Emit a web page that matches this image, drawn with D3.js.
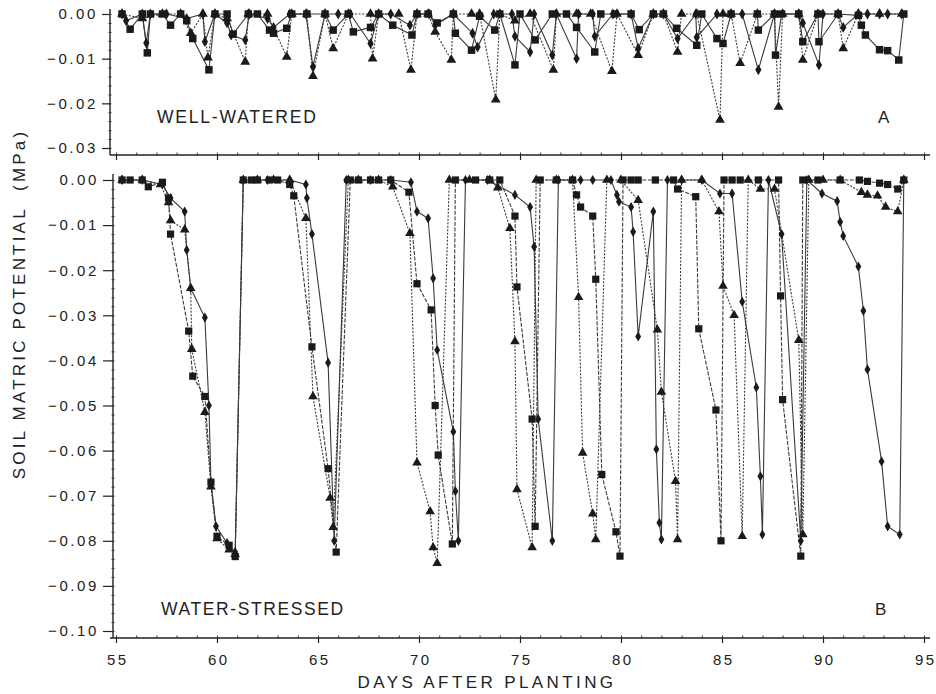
<!DOCTYPE html>
<html>
<head>
<meta charset="utf-8">
<script src="https://cdn.jsdelivr.net/npm/d3@7"></script>
<style>
  html, body { margin: 0; padding: 0; background: #fff; }
  svg { display: block; }
  text { font-family: "Liberation Sans", Arial, sans-serif; fill: #222; }
</style>
</head>
<body>
<svg id="chart" width="936" height="694"></svg>
<script>
// ---------------- DATA ----------------
const xTicks = [55, 60, 65, 70, 75, 80, 85, 90, 95];
const yTicksTop = [0, -0.01, -0.02, -0.03];
const yTicksBottom = [0, -0.01, -0.02, -0.03, -0.04, -0.05, -0.06, -0.07, -0.08, -0.09, -0.10];

// Panel A (well-watered): [day, MPa]
const topSquare = [[55.3,0],[55.7,-0.0034],[56.3,0],[56.55,-0.0087],[56.7,0],[57.3,0],[57.7,-0.0025],[58.2,0],[58.5,-0.0015],[58.8,-0.0055],[59.6,-0.0125],[59.9,0],[60.5,0],[60.8,-0.0045],[61.55,0],[62.0,0],[62.6,-0.0036],[62.8,-0.0043],[63.45,-0.0032],[63.7,0],[64.45,0],[65.35,0],[65.75,-0.0036],[66.5,0],[66.75,-0.004],[67.6,-0.003],[68.0,0],[68.7,-0.0025],[69.65,-0.0047],[69.9,0],[70.45,0],[70.9,-0.002],[71.7,0],[71.8,-0.0043],[72.6,-0.0081],[73.0,-0.0005],[73.75,-0.0036],[74.0,0],[74.75,-0.0114],[75.0,0],[75.75,-0.0058],[76.6,0],[77.3,0],[77.8,-0.003],[78.7,-0.0085],[79.0,0],[79.7,0],[80.5,0],[80.9,-0.0035],[81.6,0],[82.1,0],[82.75,-0.0032],[83.75,-0.007],[84.0,0],[84.75,-0.0055],[85.05,-0.0066],[85.45,0],[86.75,0],[86.8,-0.0036],[87.6,0],[87.65,-0.0092],[87.95,0],[88.8,0],[89.0,-0.0062],[89.75,0],[89.8,-0.0062],[90.75,0],[91.75,-0.0003],[91.9,-0.0025],[92.1,-0.0047],[92.8,-0.008],[93.2,-0.0082],[93.75,-0.0103],[94.0,0]];
const topTriangle = [[55.3,0],[56.3,-0.001],[57.3,0],[58.2,0],[58.7,-0.0043],[59.3,0],[59.55,-0.0098],[59.9,0],[60.5,-0.001],[61.4,-0.0107],[61.55,0],[62.5,0],[63.45,-0.0096],[63.7,0],[64.45,0],[64.75,-0.0139],[65.35,0],[65.75,-0.0077],[66.5,0],[67.6,0],[67.7,-0.01],[68.0,0],[69.0,0],[69.6,-0.0125],[69.9,0],[70.45,0],[70.8,-0.004],[71.6,-0.0103],[71.7,0],[72.6,0],[73.0,0],[73.8,-0.0192],[74.0,0],[74.75,-0.0015],[75.5,0],[76.65,-0.0125],[76.8,0],[77.8,0],[78.5,0],[79.55,-0.0128],[79.8,0],[80.85,-0.0092],[81.6,0],[82.1,0],[82.8,-0.0085],[83.0,0],[83.75,0],[84.9,-0.0237],[85.05,0],[85.45,0],[85.9,-0.011],[86.75,0],[87.6,0],[87.8,-0.0208],[88.0,0],[88.8,0],[89.0,-0.0103],[89.75,0],[90.75,0],[91.0,-0.0077],[91.75,0],[92.8,0],[93.9,0]];
const topDiamond = [[55.3,0],[55.5,-0.0015],[56.3,0],[56.5,-0.0065],[56.7,0],[57.5,0],[58.5,-0.001],[59.3,0],[59.4,-0.0062],[59.9,0],[60.5,-0.002],[60.7,-0.0047],[61.4,-0.0058],[61.6,0],[62.5,-0.001],[62.8,-0.003],[63.6,0],[64.4,0],[64.75,-0.0118],[65.35,0],[66.0,0],[66.6,0],[67.6,-0.0066],[68.0,0],[68.6,0],[69.55,-0.0025],[69.9,0],[70.5,0],[70.8,-0.0025],[71.7,0],[72.65,-0.0043],[72.9,-0.0074],[73.7,0],[74.6,0],[74.75,-0.005],[75.5,-0.0085],[75.7,0],[76.6,-0.0092],[76.8,0],[77.8,-0.01],[77.9,0],[78.6,0],[78.7,-0.005],[79.6,0],[80.5,0],[80.85,-0.0077],[81.6,0],[82.1,0],[82.8,-0.0055],[83.7,0],[83.75,-0.0052],[84.75,0],[85.45,0],[86.0,0],[86.8,-0.0125],[87.6,0],[88.8,0],[89.0,-0.002],[89.8,-0.0114],[90.0,0],[90.75,0],[91.0,-0.003],[91.75,0],[92.2,0],[92.8,0],[93.2,0],[93.9,0]];

// Panel B (water-stressed): [day, MPa]
const botSquare = [[55.3,0],[55.7,0],[56.3,0],[56.6,-0.0015],[57.3,-0.0005],[57.6,-0.004],[57.7,-0.012],[58.6,-0.0335],[58.8,-0.0435],[59.4,-0.048],[59.7,-0.067],[60.0,-0.079],[60.6,-0.081],[60.9,-0.0835],[61.3,0],[61.7,0],[62.0,0],[62.6,0],[63.0,0],[63.6,-0.001],[63.8,-0.0035],[64.7,-0.037],[65.5,-0.064],[65.9,-0.0825],[66.6,0],[67.0,0],[67.6,0],[68.0,0],[68.6,0],[69.5,-0.0027],[69.9,-0.023],[70.6,-0.0288],[70.8,-0.050],[70.95,-0.061],[71.65,-0.0807],[71.8,0],[72.8,0],[73.5,0],[74.0,0],[74.75,-0.008],[74.85,-0.0237],[75.6,-0.053],[75.75,-0.0768],[76.0,0],[76.8,0],[77.6,0],[77.8,-0.0033],[78.0,-0.006],[78.6,-0.008],[78.75,-0.022],[79.05,-0.0653],[79.75,-0.078],[79.95,-0.0834],[80.1,0],[80.5,0],[80.85,0],[81.7,0],[82.6,0],[82.8,-0.002],[83.7,-0.0037],[83.85,-0.033],[84.7,-0.051],[84.95,-0.080],[85.1,0],[85.5,0],[85.9,0],[86.8,0],[87.8,0],[87.9,-0.0257],[88.0,-0.0487],[88.9,-0.0834],[89.0,0],[89.75,0],[90.85,0],[91.8,0],[92.2,-0.0003],[92.8,-0.0007],[93.2,-0.001],[93.7,-0.002],[94.0,0]];
const botTriangle = [[55.3,0],[56.3,0],[57.2,-0.001],[57.6,-0.005],[57.7,-0.009],[58.4,-0.011],[58.7,-0.024],[58.75,-0.0375],[59.4,-0.0515],[59.7,-0.068],[60.0,-0.0795],[60.6,-0.082],[60.9,-0.083],[61.3,0],[62.0,0],[62.8,0],[63.6,0],[64.4,-0.0085],[64.75,-0.048],[65.6,-0.0705],[65.75,-0.077],[66.5,0],[67.0,0],[68.0,0],[68.7,-0.0015],[69.55,-0.0118],[69.9,-0.0627],[70.55,-0.0735],[70.7,-0.0815],[70.9,-0.085],[71.5,0],[72.5,0],[73.5,0],[73.9,-0.0017],[74.5,-0.0107],[74.75,-0.0358],[74.85,-0.0686],[75.6,-0.0815],[75.8,0],[76.8,0],[77.6,0],[77.9,-0.026],[78.1,-0.0605],[78.6,-0.074],[78.75,-0.0797],[79.3,0],[80.0,0],[80.85,-0.0045],[81.8,-0.0332],[82.0,-0.047],[82.7,-0.0668],[82.8,-0.0797],[83.0,0],[84.0,0],[84.85,-0.007],[85.05,-0.0235],[85.6,-0.030],[86.0,-0.079],[86.3,0],[86.9,-0.002],[87.6,-0.002],[88.8,-0.0355],[89.0,-0.0786],[89.3,0],[90.0,0],[90.85,0],[91.9,-0.0027],[92.2,-0.0033],[92.7,-0.0035],[93.1,-0.006],[93.7,-0.007],[94.0,0]];
const botDiamond = [[55.3,0],[56.3,0],[57.3,-0.001],[57.7,-0.004],[58.4,-0.007],[58.5,-0.0155],[58.7,-0.024],[59.4,-0.0305],[59.6,-0.050],[59.7,-0.067],[59.95,-0.0768],[60.5,-0.0805],[60.9,-0.0825],[61.3,0],[62.5,0],[63.6,0],[64.4,-0.001],[64.45,-0.004],[64.7,-0.012],[65.5,-0.0405],[65.8,-0.080],[66.4,0],[67.6,0],[68.6,0],[69.6,-0.0005],[69.9,-0.007],[70.45,-0.0085],[70.7,-0.0218],[70.9,-0.0377],[71.7,-0.0558],[71.8,-0.069],[71.95,-0.080],[72.3,0],[73.4,0],[74.75,-0.0033],[75.5,-0.006],[75.7,-0.0148],[75.9,-0.053],[76.6,-0.080],[76.9,0],[78.0,0],[78.6,0],[79.5,0],[79.8,-0.0033],[79.9,-0.0048],[80.5,-0.006],[80.6,-0.0115],[80.85,-0.0347],[81.6,-0.007],[81.75,-0.0597],[81.9,-0.076],[82.0,-0.0797],[82.3,0],[83.0,0],[84.0,0],[84.9,-0.003],[85.5,-0.003],[86.0,-0.027],[86.7,-0.046],[86.9,-0.0657],[87.0,-0.0786],[87.3,0],[87.95,-0.012],[88.9,-0.080],[89.2,0],[89.95,-0.003],[90.7,-0.0047],[90.85,-0.0093],[91.0,-0.0124],[91.75,-0.0192],[92.0,-0.029],[92.2,-0.042],[92.9,-0.0624],[93.2,-0.0768],[93.8,-0.0786],[94.0,0]];

// ---------------- DRAW ----------------
const svg = d3.select("#chart");
const x = d3.scaleLinear().domain([55, 95]).range([116, 924]);
const yTop = d3.scaleLinear().domain([0, -0.03]).range([14, 148]);
const yBot = d3.scaleLinear().domain([0, -0.10]).range([180, 631]);
const fmt = d3.format(".2f");

function yAxis(scale, ticks, xpos, yStart, yEnd, minorVals, tsize) {
  const g = svg.append("g").attr("transform", `translate(${xpos},0)`);
  g.append("line").attr("x1", 0).attr("x2", 0).attr("y1", yStart).attr("y2", yEnd)
    .attr("stroke", "#222").attr("stroke-width", 1.4);
  const ax = d3.axisLeft(scale).tickValues(ticks).tickSize(tsize).tickPadding(4).tickFormat(d => fmt(d));
  const ga = g.append("g").call(ax);
  ga.select(".domain").remove();
  ga.selectAll("line").attr("stroke", "#222").attr("stroke-width", 1.2);
  ga.selectAll("text").style("font-size", "15px").style("letter-spacing", "2.6px").attr("fill", "#222");
  const mi = d3.axisRight(scale).tickValues(minorVals).tickSize(3).tickFormat("");
  const gm = g.append("g").attr("transform", "translate(-1.5,0)").call(mi);
  gm.select(".domain").remove();
  gm.selectAll("line").attr("stroke", "#333").attr("stroke-width", 1);
}

// Top panel y axis
yAxis(yTop, yTicksTop, 110, 9, 155, d3.range(0, -0.0315, -0.002), 8);
// Bottom panel y axis
yAxis(yBot, yTicksBottom, 113, 174, 638, d3.range(0, -0.1015, -0.002), 10);

// X axes (top panel bottom line, bottom panel bottom line)
function xAxis(ypos, labels) {
  const g = svg.append("g").attr("transform", `translate(0,${ypos})`);
  g.append("line").attr("x1", 110).attr("x2", 930).attr("y1", 0).attr("y2", 0)
    .attr("stroke", "#222").attr("stroke-width", 1.5);
  const ax = d3.axisBottom(x).tickValues(xTicks).tickSize(5).tickPadding(11)
    .tickFormat(labels ? (d => d) : "");
  const ga = g.append("g").call(ax);
  ga.select(".domain").remove();
  ga.selectAll("line").attr("stroke", "#222").attr("stroke-width", 1.2);
  ga.selectAll("text").style("font-size", "15px").style("letter-spacing", "2.4px")
    .attr("dx", "1.2px").attr("fill", "#222");
  const mi = d3.axisTop(x).tickValues(d3.range(55, 95.01, 1)).tickSize(2.5).tickFormat("");
  const gm = g.append("g").call(mi);
  gm.select(".domain").remove();
  gm.selectAll("line").attr("stroke", "#333").attr("stroke-width", 1);
}
xAxis(155, false);
xAxis(638, true);

// Series
const seriesDefs = [
  {data: topDiamond, y: yTop, sym: d3.symbolDiamond, size: 34, dash: null},
  {data: topTriangle, y: yTop, sym: d3.symbolTriangle, size: 42, dash: "2,1.5"},
  {data: topSquare, y: yTop, sym: d3.symbolSquare, size: 56, dash: null},
  {data: botDiamond, y: yBot, sym: d3.symbolDiamond, size: 30, dash: null},
  {data: botTriangle, y: yBot, sym: d3.symbolTriangle, size: 40, dash: "2,1.5"},
  {data: botSquare, y: yBot, sym: d3.symbolSquare, size: 52, dash: "4,1.5"}
];

seriesDefs.forEach(s => {
  const line = d3.line().x(d => x(d[0])).y(d => s.y(d[1]));
  svg.append("path").datum(s.data).attr("d", line)
    .attr("fill", "none").attr("stroke", "#3a3a3a").attr("stroke-width", 1.1)
    .attr("stroke-dasharray", s.dash);
});
seriesDefs.forEach(s => {
  const sym = d3.symbol().type(s.sym).size(s.size);
  svg.append("g").selectAll("path").data(s.data).join("path")
    .attr("d", sym)
    .attr("transform", d => `translate(${x(d[0])},${s.y(d[1])})`)
    .attr("fill", "#1a1a1a");
});

// Panel labels
svg.append("text").attr("x", 157).attr("y", 123).text("WELL-WATERED")
  .style("font-size", "17.5px").style("letter-spacing", "1.8px");
svg.append("text").attr("x", 878).attr("y", 123).text("A")
  .style("font-size", "17px");
svg.append("text").attr("x", 161).attr("y", 615).text("WATER-STRESSED")
  .style("font-size", "17.5px").style("letter-spacing", "1.6px");
svg.append("text").attr("x", 875).attr("y", 615).text("B")
  .style("font-size", "17px");

// Axis titles
svg.append("text").attr("x", 487).attr("y", 688).attr("text-anchor", "middle")
  .text("DAYS AFTER PLANTING").style("font-size", "17px").style("letter-spacing", "3.4px");
svg.append("text").attr("transform", "translate(25,304) rotate(-90)").attr("text-anchor", "middle")
  .attr("xml:space", "preserve")
  .text("SOIL MATRIC POTENTIAL  (MPa)").style("font-size", "17px").style("letter-spacing", "3.2px")
  .style("white-space", "pre");
</script>
</body>
</html>
